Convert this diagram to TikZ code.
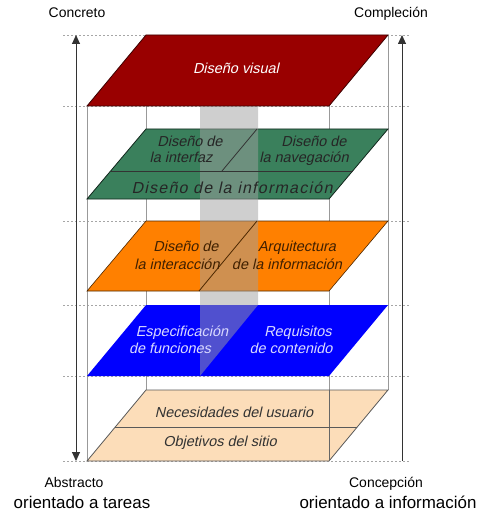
\documentclass[tikz,border=0pt]{standalone}
\usepackage{fontspec}
\setmainfont{Liberation Sans}
\newfontfamily\planefont[FakeSlant=0.22]{Liberation Sans}
\usepackage{tikz}
\usetikzlibrary{arrows.meta}
\definecolor{visred}{RGB}{153,0,0}
\definecolor{navgreen}{RGB}{58,128,92}
\definecolor{intorange}{RGB}{255,128,0}
\definecolor{funcblue}{RGB}{0,0,255}
\definecolor{needtan}{RGB}{252,221,185}
\definecolor{bandgray}{RGB}{160,160,160}
\tikzset{
	guide/.style={gray!70, line width=0.6bp, dash pattern=on 2bp off 2bp},
	edge/.style={gray!80, line width=0.8bp},
	axis/.style={black!80, line width=0.9bp},
	ptxt/.style={font=\fontsize{14.5}{17}\planefont, inner sep=0pt, anchor=base},
	lbl/.style={font=\fontsize{14}{16}\selectfont, inner sep=0pt, anchor=base},
	biglbl/.style={font=\fontsize{17}{19}\selectfont, inner sep=0pt, anchor=base}
}
% one layer of the stack: colours, top y, bottom y
\newcommand\layer[3]{
	\filldraw[#1] (146,#2) -- (388,#2) -- (329,#3) -- (87,#3) -- cycle;
}
\newcommand\guides[0]{
	% dotted levels
	\foreach \y in {35,106,221,305,376,461} {
		\draw[guide] (63,\y) -- (410,\y);
	}
	% box edges
	\foreach \x/\a/\b in {87/106/461,146/35/390,329/106/461,388/35/390} {
		\draw[edge] (\x,\a) -- (\x,\b);
	}
}
\begin{document}
\begin{tikzpicture}[x=1bp,y=-1bp]
	\useasboundingbox (0,0) rectangle (486,512);
	\guides

	% planes, bottom to top
	\layer{fill=needtan, draw=black!65, line width=0.8bp}{390}{461}
	\draw[edge, black!60] (329,390) -- (329,461);
	\draw[black!65, line width=0.8bp] (115.3,427) -- (357.3,427);
	\layer{fill=funcblue, draw=none}{305}{376}
	\layer{fill=intorange, draw=black!70!intorange, line width=0.6bp}{221}{291}
	\layer{fill=navgreen, draw=black!70!navgreen, line width=0.8bp}{129}{199}

	% column through the layers
	\fill[bandgray, opacity=0.5] (200,106) -- (258,106) -- (258,305) -- (200,376) -- cycle;

	% dividers
	\draw[black!80, line width=0.8bp] (110.6,171) -- (352.6,171);
	\draw[black!80, line width=0.8bp] (257,129) -- (222,171);
	\draw[black!70!intorange, line width=0.8bp] (257,221) -- (199,291);

	\layer{fill=visred, draw=black!60!visred, line width=0.8bp}{35}{106}

	% texts in the planes
	\node[ptxt, white] (visual) at (236,74) {Diseño visual};
	\node[ptxt, black!85] (interfaz1) at (190,147) {Diseño de};
	\node[ptxt, black!85] (interfaz2) at (181,163) {la interfaz};
	\node[ptxt, black!85] (naveg1) at (314,147) {Diseño de};
	\node[ptxt, black!85] (naveg2) at (304,163) {la navegación};
	\node[ptxt, black!85, font=\fontsize{16}{18}\planefont\addfontfeature{LetterSpace=8}] (info) at (232,194) {Diseño de la información};
	\node[ptxt, black!75!intorange] (interac1) at (186,251) {Diseño de};
	\node[ptxt, black!75!intorange] (interac2) at (177,269) {la interacción};
	\node[ptxt, black!75!intorange] (arq1) at (297,251) {Arquitectura};
	\node[ptxt, black!75!intorange] (arq2) at (287,269) {de la información};
	\node[ptxt, blue!15] (espec1) at (182,336) {Especificación};
	\node[ptxt, blue!15] (espec2) at (170,353) {de funciones};
	\node[ptxt, blue!15] (req1) at (298,336) {Requisitos};
	\node[ptxt, blue!15] (req2) at (291,353) {de contenido};
	\node[ptxt, black!80] (needs) at (234,417) {Necesidades del usuario};
	\node[ptxt, black!80] (goals) at (220,446) {Objetivos del sitio};

	% axes
	\coordinate (lefttop) at (76,35);
	\coordinate (leftbot) at (76,461);
	\coordinate (righttop) at (402,35);
	\coordinate (rightbot) at (402,461);
	\draw[axis, {Triangle[width=8bp,length=9bp]}-{Triangle[width=8bp,length=9bp]}] (leftbot) -- (lefttop);
	\draw[axis, -{Triangle[width=8bp,length=9bp]}] (rightbot) -- (righttop);

	% labels
	\node[lbl] (concreto) at (77,18) {Concreto};
	\node[lbl] (complecion) at (391,18) {Compleción};
	\node[lbl] (abstracto) at (74,487) {Abstracto};
	\node[lbl] (concepcion) at (386,487) {Concepción};
	\node[biglbl] (tareas) at (82,508) {orientado a tareas};
	\node[biglbl] (informacion) at (388,508) {orientado a información};
\end{tikzpicture}
\end{document}
